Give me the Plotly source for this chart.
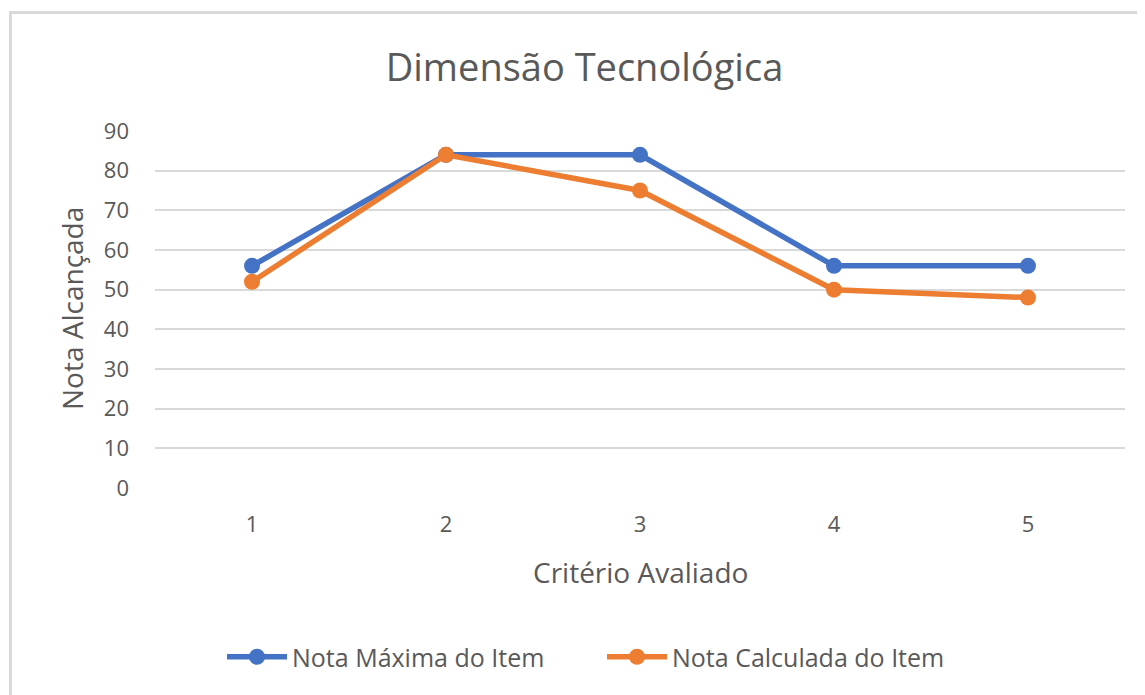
import plotly.graph_objects as go

criterios = [1, 2, 3, 4, 5]
nota_maxima = [56, 84, 84, 56, 56]
nota_calculada = [52, 84, 75, 50, 48]
y_ticks = [0, 10, 20, 30, 40, 50, 60, 70, 80, 90]

FONT = "Open Sans, Liberation Sans, sans-serif"
TXT = "#595959"
W, H = 1145, 695
OFF = 8  # page body margin
# plot area in screen pixels: x 155..1125, y 131..488
L = 155 - OFF
T = 131 - OFF
R = W - (1125 - OFF)
B = H - (488 - OFF)
pw = W - L - R
ph = H - T - B


def px(xs):
    return (xs - OFF - L) / pw


def py(ys):
    return (H - B - (ys - OFF)) / ph


fig = go.Figure()
fig.add_trace(go.Scatter(
    x=criterios, y=nota_maxima, name="Nota Máxima do Item",
    mode="lines+markers",
    line=dict(color="#4472C4", width=5.5),
    marker=dict(color="#4472C4", size=16),
))
fig.add_trace(go.Scatter(
    x=criterios, y=nota_calculada, name="Nota Calculada do Item",
    mode="lines+markers",
    line=dict(color="#ED7D31", width=5.5),
    marker=dict(color="#ED7D31", size=16),
))

# chart frame (top and left edges visible)
fig.add_shape(type="rect", xref="paper", yref="paper",
              x0=px(10.5), x1=px(W + 40), y0=py(H + 40), y1=py(12.5),
              line=dict(color="#d9d9d9", width=3), layer="below")

fig.add_annotation(text="Critério Avaliado", xref="paper", yref="paper",
                   x=px(640), y=py(572), xanchor="center", yanchor="middle",
                   showarrow=False, font=dict(size=28, color=TXT, family=FONT))
fig.add_annotation(text="Nota Alcançada", xref="paper", yref="paper",
                   x=px(72), y=py(309), xanchor="center", yanchor="middle",
                   textangle=-90, showarrow=False,
                   font=dict(size=28, color=TXT, family=FONT))

fig.update_layout(
    width=W, height=H,
    margin=dict(l=L, r=R, t=T, b=B),
    paper_bgcolor="white", plot_bgcolor="white",
    font=dict(family=FONT, color=TXT, size=22),
    title=dict(text="Dimensão Tecnológica", x=(584.5 - OFF) / W, xref="container",
               xanchor="center", y=1 - (68 - OFF) / H, yref="container", yanchor="middle",
               font=dict(size=38, color=TXT, family=FONT)),
    xaxis=dict(
        range=[0.5, 5.5], tickvals=criterios, ticktext=[str(c) for c in criterios],
        showgrid=False, zeroline=False, showline=False, ticks="",
        tickfont=dict(size=22, color=TXT), ticklabelstandoff=21,
    ),
    yaxis=dict(
        range=[0, 90], tickvals=y_ticks,
        showgrid=True, gridcolor="#d9d9d9", gridwidth=2,
        zeroline=False, showline=False, ticks="",
        tickfont=dict(size=22, color=TXT), ticklabelstandoff=25,
    ),
    legend=dict(orientation="h", x=px(222), xanchor="left",
                y=py(657), yanchor="middle",
                font=dict(size=25, color=TXT), itemwidth=60,
                entrywidth=305, entrywidthmode="pixels",
                bgcolor="rgba(0,0,0,0)"),
    showlegend=True,
)

fig.write_html("out.html")
